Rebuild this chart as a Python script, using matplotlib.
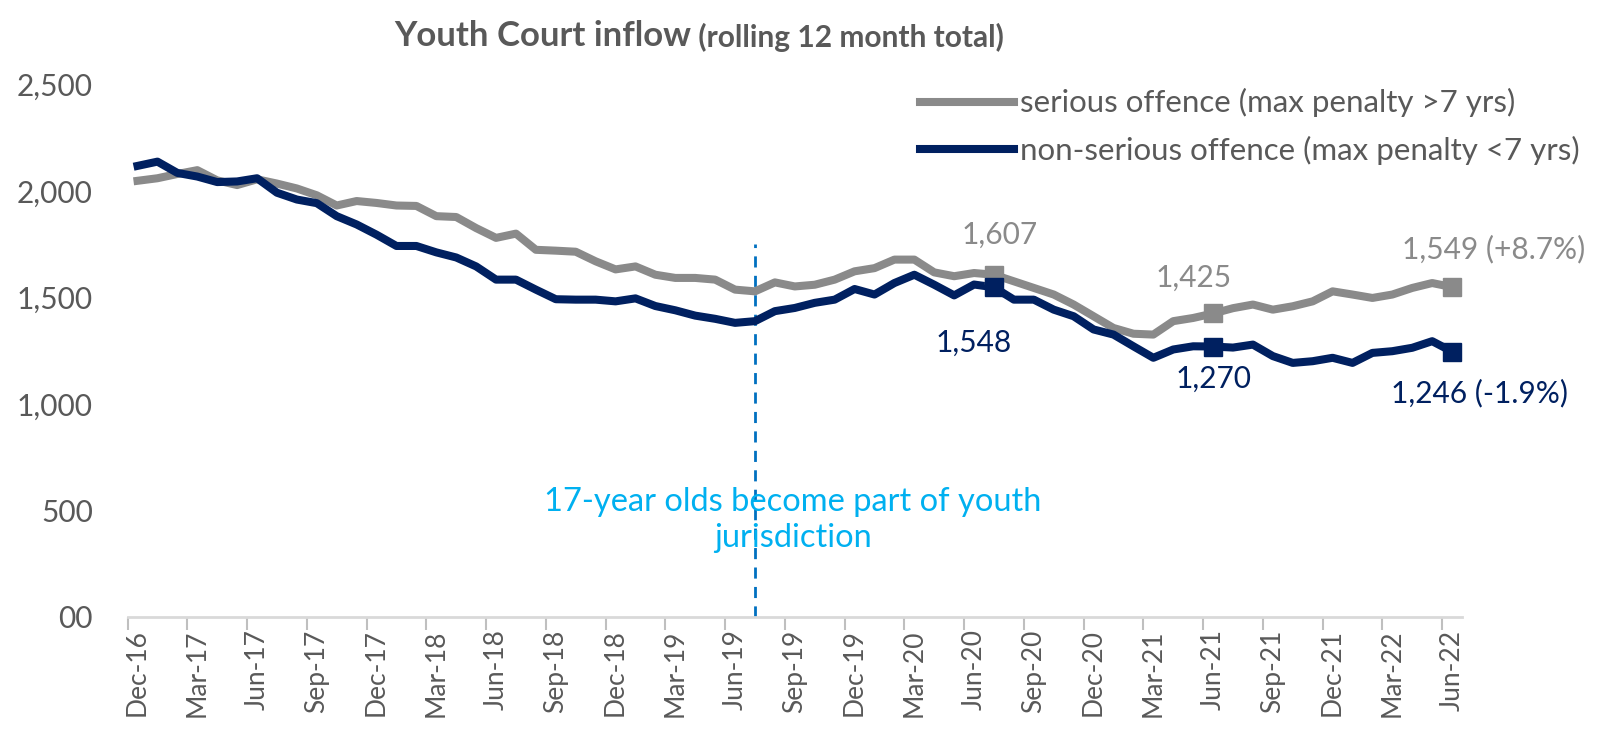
import matplotlib.pyplot as plt
import numpy as np

plt.rcParams['font.family'] = ['Lato', 'DejaVu Sans']

# rolling 12 month totals, Dec-16 .. Jun-22 (monthly)
tick_labels = ['Dec-16', 'Mar-17', 'Jun-17', 'Sep-17', 'Dec-17', 'Mar-18', 'Jun-18',
               'Sep-18', 'Dec-18', 'Mar-19', 'Jun-19', 'Sep-19', 'Dec-19', 'Mar-20',
               'Jun-20', 'Sep-20', 'Dec-20', 'Mar-21', 'Jun-21', 'Sep-21', 'Dec-21',
               'Mar-22', 'Jun-22']

serious = [2048, 2060, 2080, 2098, 2050, 2028, 2055, 2035, 2012, 1980,
           1932, 1953, 1944, 1932, 1930, 1882, 1878, 1826, 1780, 1800,
           1724, 1720, 1715, 1670, 1632, 1646, 1607, 1592, 1592, 1584,
           1537, 1529, 1571, 1552, 1560, 1584, 1623, 1638, 1678, 1678,
           1618, 1600, 1615, 1607, 1576, 1545, 1514, 1467, 1412, 1357,
           1330, 1326, 1389, 1404, 1425, 1450, 1467, 1443, 1459, 1482,
           1529, 1514, 1498, 1514, 1545, 1568, 1549]

non_serious = [2118, 2138, 2085, 2068, 2042, 2045, 2060, 1992, 1960, 1943,
               1882, 1843, 1795, 1742, 1742, 1712, 1688, 1646, 1584, 1584,
               1537, 1492, 1490, 1490, 1482, 1496, 1460, 1440, 1415, 1400,
               1381, 1389, 1436, 1451, 1475, 1490, 1540, 1514, 1568, 1607,
               1560, 1510, 1561, 1548, 1490, 1490, 1443, 1412, 1350, 1326,
               1271, 1217, 1256, 1271, 1270, 1265, 1279, 1225, 1193, 1201,
               1217, 1193, 1240, 1248, 1264, 1295, 1246]

mark_idx = [43, 54, 66]
serious_notes = ['1,607', '1,425', '1,549 (+8.7%)']
non_serious_notes = ['1,548', '1,270', '1,246 (-1.9%)']
change_month = 31  # Jul-19

GREY = '#8a8a8a'
NAVY = '#002060'
TXT = '#595959'

serious = np.array(serious)
non_serious = np.array(non_serious)
x = np.arange(len(serious))

fig = plt.figure(figsize=(16.15, 7.3), dpi=100)
ax = fig.add_axes([0.079, 0.1548, 0.8263, 0.7294])

ax.plot(x, serious, color=GREY, lw=5.8, solid_joinstyle='round',
        label='serious offence (max penalty >7 yrs)', zorder=3)
ax.plot(x, non_serious, color=NAVY, lw=5.8, solid_joinstyle='round',
        label='non-serious offence (max penalty <7 yrs)', zorder=4)
ax.plot(x[mark_idx], serious[mark_idx], 's', color=GREY, ms=13, zorder=5)
ax.plot(x[mark_idx], non_serious[mark_idx], 's', color=NAVY, ms=13, zorder=6)

# value labels
s_offsets = [(4, 29), (-14, 26), (30, 27)]
n_offsets = [(-15, -40), (0, -23), (20, -30)]
for i, t, off in zip(mark_idx, serious_notes, s_offsets):
    ax.annotate(t, (x[i], serious[i]), xytext=off, textcoords='offset points',
                ha='center', va='center', color=GREY, fontsize=21.5)
for i, t, off in zip(mark_idx, non_serious_notes, n_offsets):
    ax.annotate(t, (x[i], non_serious[i]), xytext=off, textcoords='offset points',
                ha='center', va='center', color=NAVY, fontsize=21.5)

# policy change line
ax.plot([change_month, change_month], [0, 1750], color='#0070c0', lw=2,
        ls=(0, (4, 3)), zorder=2)
ax.text(change_month + 1.9, 455, '17-year olds become part of youth\njurisdiction',
        ha='center', va='center', color='#00b0f0', fontsize=23.5, linespacing=1.25)

ax.set_xlim(-0.5, len(x) - 0.5)
ax.set_ylim(0, 2500)
ax.set_xticks(x[::3])
ax.set_xticklabels(tick_labels, rotation=90, fontsize=19, color=TXT)
ax.set_xticks(np.arange(-0.5, len(x) - 0.5, 3), minor=True)
ax.tick_params(axis='x', which='major', length=0, pad=9)
ax.tick_params(axis='x', which='minor', length=9, width=1.5, color='#bfbfbf')
ax.set_yticks([0, 500, 1000, 1500, 2000, 2500])
ax.set_yticklabels(['00', '500', '1,000', '1,500', '2,000', '2,500'],
                   fontsize=21.5, color=TXT)
ax.tick_params(axis='y', length=0, pad=25)

for s in ['top', 'right', 'left']:
    ax.spines[s].set_visible(False)
ax.spines['bottom'].set_color('#d9d9d9')
ax.spines['bottom'].set_linewidth(2)

ax.legend(loc='upper left', bbox_to_anchor=(0.5697, 0.879),
          bbox_transform=fig.transFigure, frameon=False, fontsize=22.5,
          handlelength=3.0, handletextpad=0.2, labelspacing=0.6,
          borderpad=0, borderaxespad=0, labelcolor=TXT)

t1 = fig.text(394 / 1615, 1 - 36 / 730, 'Youth Court inflow', ha='left', va='center',
              fontsize=25, fontweight='bold', color=TXT)
ax.annotate(' (rolling 12 month total)', xy=(1, 0), xycoords=t1, ha='left', va='bottom',
            fontsize=21.5, fontweight='bold', color=TXT)

fig.savefig('out.png', dpi=100)
